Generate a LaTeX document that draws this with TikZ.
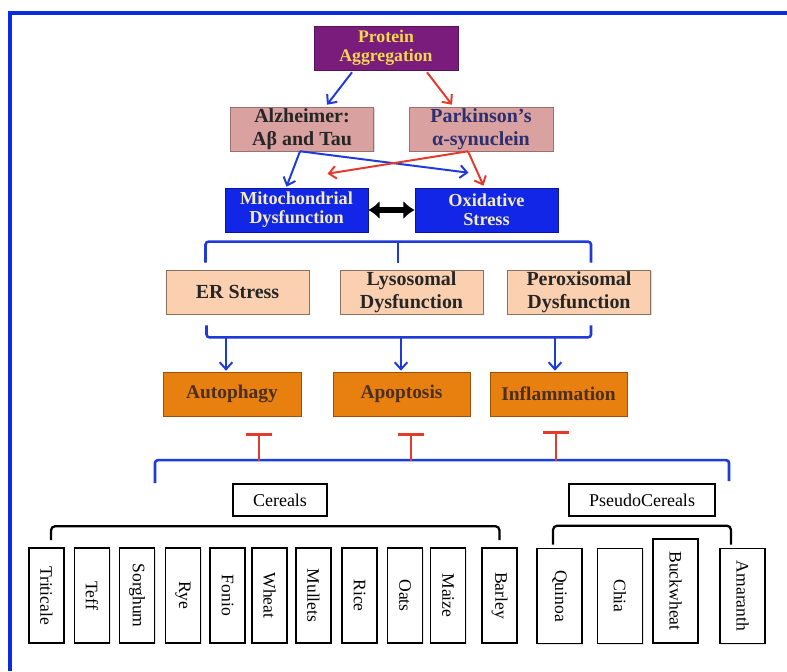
\documentclass[tikz,border=0pt]{standalone}
\usepackage{fontspec}
\setmainfont{Liberation Serif}
\usetikzlibrary{arrows.meta, calc, shadows}

\definecolor{frameblue}{HTML}{0B2BE0}
\definecolor{purp}{HTML}{7A1C7C}
\definecolor{yel}{HTML}{F4D84E}
\definecolor{rose}{HTML}{D9A19F}
\definecolor{boxblue}{HTML}{1226E8}
\definecolor{cream}{HTML}{F2EDB8}
\definecolor{peach}{HTML}{FBD0B0}
\definecolor{orng}{HTML}{E8800F}
\definecolor{arrblue}{HTML}{1E3AD8}
\definecolor{arrred}{HTML}{E43A2C}

\newcommand{\vlabel}[1]{\rotatebox{-90}{#1}}

\tikzset{
    box/.style={draw, inner sep=0pt, align=center, minimum height=1.1cm,
        drop shadow={opacity=0.3, shadow xshift=1pt, shadow yshift=-1pt}},
    grain/.style={draw, line width=1.2pt, inner sep=0pt, fill=white,
        minimum width=0.875cm, minimum height=2.375cm,
        font=\fontsize{12.5}{13}\selectfont,
        drop shadow={opacity=0.2, shadow xshift=1pt, shadow yshift=-1pt}},
    pgrain/.style={grain, minimum width=1.125cm},
    group/.style={draw, line width=1.2pt, inner sep=0pt, fill=white,
        minimum height=0.8cm, font=\fontsize{12.8}{13}\selectfont},
    barr/.style={arrblue, line width=1.4pt, -{Straight Barb[length=5pt, width=9pt]}},
    rarr/.style={arrred, line width=1.4pt, -{Straight Barb[length=5pt, width=9pt]}},
    bline/.style={arrblue, line width=1.8pt, rounded corners=2pt},
    kline/.style={black, line width=1.6pt, rounded corners=3pt},
    inh/.style={arrred, line width=1.4pt, -{Bar[width=18pt, line width=1.6pt]}}
}

\begin{document}
\begin{tikzpicture}[x=0.025cm, y=-0.025cm]
    \useasboundingbox (0,0) rectangle (787,671);
    \fill[white] (0,0) rectangle (787,671);
    \draw[frameblue, line width=2.6pt] (10,671) -- (10,13) -- (787,13);

    % disease level
    \node (prot) at (386,48) [box, fill=purp, draw=purp!70!black, text=yel, minimum width=3.6cm,
        font=\bfseries\fontsize{12.6}{13.4}\selectfont] {Protein\\Aggregation};
    \node (alz) at (302,129) [box, fill=rose, draw=rose!70!black, text=black!85, minimum width=3.575cm,
        font=\bfseries\fontsize{14.2}{16}\selectfont] {Alzheimer:\\Aβ and Tau};
    \node (park) at (481,129) [box, fill=rose, draw=rose!70!black, text={rgb,255:red,46;green,47;blue,110},
        minimum width=3.6cm, font=\bfseries\fontsize{14.2}{16}\selectfont] {Parkinson’s\\α-synuclein};

    \node (mito) at (296.5,210) [box, fill=boxblue, draw=boxblue!60!black, text=cream, minimum width=3.575cm,
        font=\bfseries\fontsize{13}{13.6}\selectfont] {Mitochondrial\\Dysfunction};
    \node (oxid) at (486.5,210) [box, fill=boxblue, draw=boxblue!60!black, text=cream, minimum width=3.575cm,
        font=\bfseries\fontsize{13}{13.6}\selectfont] {Oxidative\\Stress};

    % organelle stress
    \node (er) at (237.5,292) [box, fill=peach, draw=peach!55!black, text=black!85, minimum width=3.575cm,
        font=\bfseries\fontsize{14.2}{16.5}\selectfont] {ER Stress};
    \node (lyso) at (411.5,292) [box, fill=peach, draw=peach!55!black, text=black!85, minimum width=3.575cm,
        font=\bfseries\fontsize{14.2}{16.5}\selectfont] {Lysosomal\\Dysfunction};
    \node (perox) at (579,292) [box, fill=peach, draw=peach!55!black, text=black!85, minimum width=3.575cm,
        font=\bfseries\fontsize{14.2}{16.5}\selectfont] {Peroxisomal\\Dysfunction};

    % outcomes
    \node (auto) at (232,394) [box, fill=orng, draw=orng!65!black, text={rgb,255:red,75;green,46;blue,30},
        minimum width=3.45cm, font=\bfseries\fontsize{13.8}{15}\selectfont] {Autophagy};
    \node (apop) at (401.5,394) [box, fill=orng, draw=orng!65!black, text={rgb,255:red,75;green,46;blue,30},
        minimum width=3.425cm, font=\bfseries\fontsize{13.8}{15}\selectfont] {Apoptosis};
    \node (infl) at (558.5,394) [box, fill=orng, draw=orng!65!black, text={rgb,255:red,75;green,46;blue,30},
        minimum width=3.425cm, font=\bfseries\fontsize{13.8}{15}\selectfont] {Inflammation};

    % grains
    \node (cereals) at (280,500) [group, minimum width=2.35cm] {Cereals};
    \node (pseudo) at (642,500) [group, minimum width=3.65cm] {PseudoCereals};

    \node (Triticale) at (46.5,595.5) [grain] {\vlabel{Triticale}};
    \node (Teff) at (92,595.5) [grain] {\vlabel{Teff}};
    \node (Sorghum) at (137,595.5) [grain] {\vlabel{Sorghum}};
    \node (Rye) at (183,595.5) [grain] {\vlabel{Rye}};
    \node (Fonio) at (227.5,595.5) [grain] {\vlabel{Fonio}};
    \node (Wheat) at (269.5,595.5) [grain] {\vlabel{Wheat}};
    \node (Mullets) at (313.5,595.5) [grain] {\vlabel{Mullets}};
    \node (Rice) at (359.5,595.5) [grain] {\vlabel{Rice}};
    \node (Oats) at (405,595.5) [grain] {\vlabel{Oats}};
    \node (Maize) at (448,595.5) [grain] {\vlabel{Maize}};
    \node (Barley) at (499.5,595.5) [grain] {\vlabel{Barley}};
    \node (Quinoa) at (559.5,596) [pgrain] {\vlabel{Quinoa}};
    \node (Chia) at (620,596) [pgrain] {\vlabel{Chia}};
    \node (Buckwheat) at (675.5,591) [pgrain, minimum height=2.6cm] {\vlabel{Buckwheat}};
    \node (Amaranth) at (742.5,596) [pgrain] {\vlabel{Amaranth}};

    % arrows
    \draw[barr] ($(prot.south)+(-34,2)$) -- ($(alz.north)+(25,-2)$);
    \draw[rarr] ($(prot.south)+(41,2)$) -- ($(park.north)+(-29,-2)$);
    \draw[barr] ($(alz.south)+(-2,0)$) -- ($(mito.north)+(-10,-1)$);
    \draw[barr] ($(alz.south)+(-2,0)$) -- ($(oxid.north)+(-18,-15)$);
    \draw[rarr] ($(park.south)+(-13,0)$) -- ($(mito.north)+(31,-14)$);
    \draw[rarr] ($(park.south)+(-13,0)$) -- ($(oxid.north)+(-3,-2)$);
    \draw[line width=3.6pt, {Latex[length=8pt, width=13pt]}-{Latex[length=8pt, width=13pt]}] (mito) -- (oxid);

    \coordinate (u1) at ($(er.north)+(-32,-7)$);
    \coordinate (u2) at ($(perox.north)+(12,-7)$);
    \coordinate (um) at ($(lyso.north)+(-13.5,-7)$);
    \draw[bline] (u1) -- ++(0,-21) -| (u2);
    \draw[bline] (um) -- ++(0,-21);

    \coordinate (l1) at ($(er.south)+(-31,11)$);
    \coordinate (l2) at ($(perox.south)+(12,11)$);
    \draw[bline] (l1) -- ++(0,12) -| (l2);
    \draw[barr] ($(auto.north)+(-6,-35)$) -- ($(auto.north)+(-6,-1)$);
    \draw[barr] ($(apop.north)+(-0.5,-35)$) -- ($(apop.north)+(-0.5,-1)$);
    \draw[barr] ($(infl.north)+(-3.5,-35)$) -- ($(infl.north)+(-3.5,-1)$);

    \coordinate (c1) at ($(cereals.north)+(-125,0)$);
    \coordinate (c2) at ($(pseudo.north)+(87,-2)$);
    \draw[bline] (c1) -- ++(0,-23) -| (c2);
    \draw[inh] ($(auto.south)+(27,45)$) -- ($(auto.south)+(27,17)$);
    \draw[inh] ($(apop.south)+(9.5,45)$) -- ($(apop.south)+(9.5,17)$);
    \draw[inh] ($(infl.south)+(-2.5,45)$) -- ($(infl.south)+(-2.5,15)$);

    \draw[kline] ($(Triticale.north)+(4.5,-7)$) -- ++(0,-14) -| ($(Barley.north)+(0,-7)$);
    \draw[kline] ($(Quinoa.north)+(-6.5,-3)$) -- ++(0,-19) -| ($(Amaranth.north)+(-11.5,-3)$);
\end{tikzpicture}
\end{document}
